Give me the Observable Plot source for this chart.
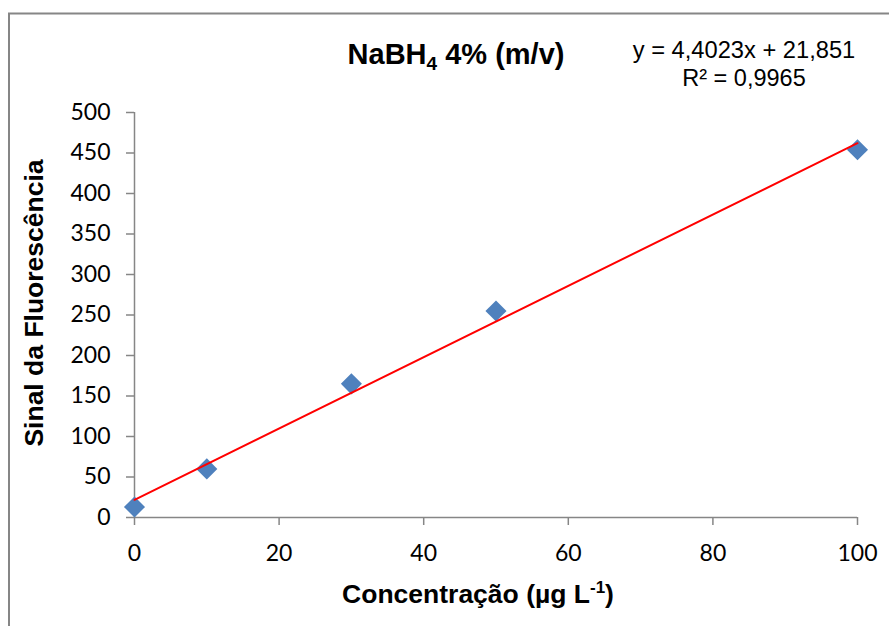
<!DOCTYPE html>
<html><head><meta charset="utf-8">
<script src="https://cdn.jsdelivr.net/npm/d3@7"></script>
<script src="https://cdn.jsdelivr.net/npm/@observablehq/plot@0.6"></script>
<style>body{margin:0;background:#fff} #chart{width:889px;height:626px}</style>
</head><body><div id="chart"></div>
<script>
// Data
const concentration = [0, 10, 30, 50, 100];
const signal = [13, 60, 165, 255, 454];
// Trend line (from the printed equation)
const slope = 4.4023, intercept = 21.851;
const equationText = "y = 4,4023x + 21,851";
const r2Text = "R² = 0,9965";
const xTicks = [0, 20, 40, 60, 80, 100];
const yTicks = [0, 50, 100, 150, 200, 250, 300, 350, 400, 450, 500];

const points = concentration.map((x, i) => ({x, y: signal[i]}));
const xEnds = [d3.min(concentration), d3.max(concentration)];
const trend = xEnds.map(x => ({x, y: slope * x + intercept}));

const axisGray = "#868686";
const plot = Plot.plot({
  width: 889, height: 626,
  marginLeft: 134, marginRight: 32, marginTop: 112, marginBottom: 109,
  x: {domain: [0, 100]},
  y: {domain: [0, 500]},
  style: {fontFamily: "Lato, sans-serif", fontSize: "23px", color: "#000", background: "#fff"},
  marks: [
    Plot.axisY({ticks: yTicks, tickSize: 8, tickPadding: 16, label: null, fontSize: 23, fontFamily: "Lato"}),
    Plot.axisX({ticks: xTicks, tickSize: 8, tickPadding: 19, label: null, fontSize: 23, fontFamily: "Lato"}),
    Plot.ruleX([0], {stroke: axisGray, strokeWidth: 1.5}),
    Plot.ruleY([0], {stroke: axisGray, strokeWidth: 1.5}),
    Plot.dot(points, {x: "x", y: "y", symbol: "diamond2", r: 9.5, fill: "#4F81BD", stroke: "none"}),
    Plot.line(trend, {x: "x", y: "y", stroke: "#FF0000", strokeWidth: 2})
  ]
});
document.getElementById("chart").appendChild(plot);

const svg = d3.select(plot);
svg.selectAll('g[aria-label="y-axis tick"], g[aria-label="x-axis tick"]').attr("stroke", axisGray).attr("stroke-width", 1.5);

// Chart border
svg.append("path").attr("d", "M9,626V13.5H889").attr("fill", "none").attr("stroke", axisGray).attr("stroke-width", 2);

const font = "'Liberation Sans', Arial, sans-serif";
// Title
const t = svg.append("text").attr("x", 456).attr("y", 64).attr("text-anchor", "middle")
  .attr("font-family", font).attr("font-weight", "bold").attr("font-size", 29).attr("fill", "#000");
t.append("tspan").text("NaBH");
t.append("tspan").attr("font-size", 19).attr("dy", 6).text("4");
t.append("tspan").attr("dy", -6).text(" 4% (m/v)");

// Equation
svg.append("text").attr("x", 744).attr("y", 58).attr("text-anchor", "middle")
  .attr("font-family", font).attr("font-size", 23.7).attr("fill", "#000").text(equationText);
svg.append("text").attr("x", 744).attr("y", 86).attr("text-anchor", "middle")
  .attr("font-family", font).attr("font-size", 23.5).attr("fill", "#000").text(r2Text);

// X axis label
const xl = svg.append("text").attr("x", 478).attr("y", 603).attr("text-anchor", "middle")
  .attr("font-family", font).attr("font-weight", "bold").attr("font-size", 26.5).attr("fill", "#000");
xl.append("tspan").text("Concentração (µg L");
xl.append("tspan").attr("font-size", 17).attr("dy", -10).text("-1");
xl.append("tspan").attr("dy", 10).text(")");

// Y axis label
svg.append("text").attr("transform", "translate(43,303) rotate(-90)").attr("text-anchor", "middle")
  .attr("font-family", font).attr("font-weight", "bold").attr("font-size", 26.5).attr("fill", "#000")
  .text("Sinal da Fluorescência");
</script></body></html>
